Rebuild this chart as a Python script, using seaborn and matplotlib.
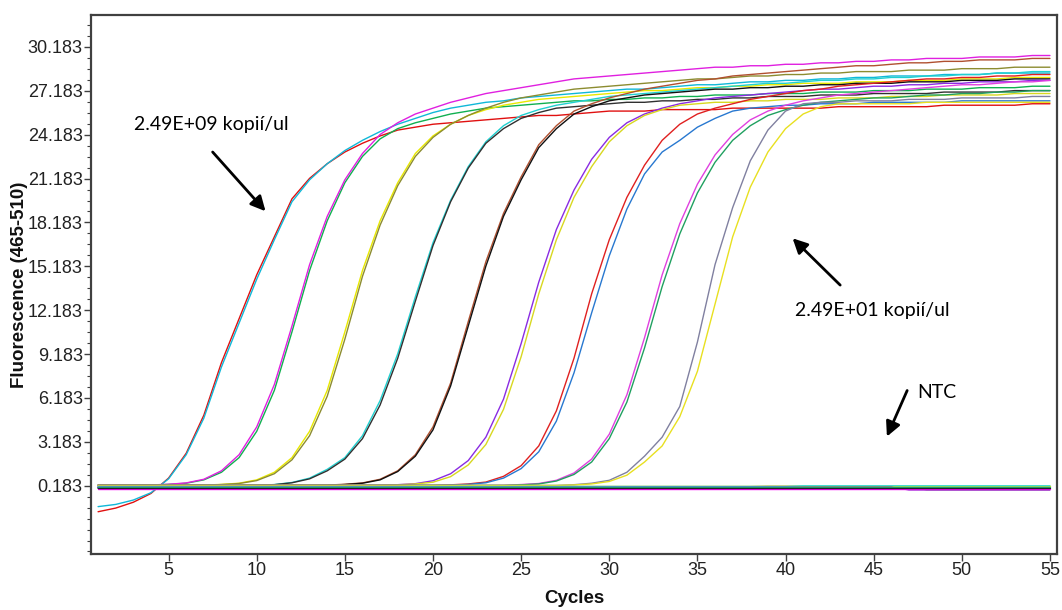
import matplotlib
matplotlib.use("Agg")
import matplotlib.pyplot as plt
from matplotlib.ticker import FixedLocator, AutoMinorLocator, FormatStrFormatter
import pandas as pd
import seaborn as sns

# ---- data: fluorescence (465-510) per well, cycles 1..55 ----
cycles = list(range(1, 56))

# 2.49E+09 copies/ul
std_e09_a = [-1.60, -1.35, -0.95, -0.35, 0.70, 2.4, 5.0, 8.6, 11.6, 14.6, 17.2, 19.8, 21.2, 22.2, 23.0, 23.6, 24.1, 24.5, 24.7, 24.9,
             25.0, 25.1, 25.2, 25.3, 25.4, 25.5, 25.5, 25.6, 25.7, 25.8, 25.8, 25.8, 25.9, 25.9, 25.9, 25.9, 26.0, 26.0, 26.0, 26.0,
             26.0, 26.0, 26.1, 26.1, 26.1, 26.1, 26.1, 26.1, 26.2, 26.2, 26.2, 26.2, 26.2, 26.3, 26.3]
std_e09_b = [-1.25, -1.10, -0.80, -0.30, 0.65, 2.3, 4.8, 8.3, 11.3, 14.3, 17.0, 19.6, 21.1, 22.2, 23.1, 23.8, 24.4, 24.9, 25.3, 25.7,
             26.0, 26.2, 26.4, 26.5, 26.7, 26.8, 26.9, 27.0, 27.1, 27.2, 27.3, 27.3, 27.4, 27.5, 27.6, 27.6, 27.7, 27.8, 27.8, 27.9,
             27.9, 28.0, 28.0, 28.1, 28.1, 28.2, 28.2, 28.2, 28.3, 28.3, 28.3, 28.4, 28.4, 28.4, 28.4]
# 2.49E+08
std_e08_a = [0.2, 0.2, 0.2, 0.22, 0.27, 0.35, 0.58, 1.1, 2.1, 3.9, 6.7, 10.7, 14.9, 18.3, 20.9, 22.7, 23.9, 24.6, 25.0, 25.3,
             25.6, 25.8, 26.0, 26.1, 26.2, 26.3, 26.4, 26.5, 26.5, 26.6, 26.6, 26.7, 26.7, 26.8, 26.8, 26.9, 26.9, 26.9, 27.0, 27.0,
             27.0, 27.1, 27.1, 27.1, 27.2, 27.2, 27.2, 27.3, 27.3, 27.3, 27.4, 27.4, 27.4, 27.5, 27.5]
std_e08_b = [0.2, 0.2, 0.2, 0.23, 0.28, 0.37, 0.62, 1.2, 2.3, 4.2, 7.1, 11.1, 15.3, 18.6, 21.1, 22.9, 24.2, 25.0, 25.6, 26.0,
             26.4, 26.7, 27.0, 27.2, 27.4, 27.6, 27.8, 28.0, 28.1, 28.2, 28.3, 28.4, 28.5, 28.6, 28.7, 28.8, 28.8, 28.9, 28.9, 29.0,
             29.0, 29.1, 29.1, 29.2, 29.2, 29.3, 29.3, 29.4, 29.4, 29.4, 29.5, 29.5, 29.5, 29.6, 29.6]
# 2.49E+07
std_e07_a = [0.2] * 6 + [0.22, 0.27, 0.35, 0.58, 1.1, 2.1, 3.9, 6.7, 10.7, 14.9, 18.3, 20.9, 22.9, 24.1, 24.9, 25.5, 25.9, 26.2,
             26.4, 26.6, 26.7, 26.8, 26.9, 27.0, 27.1, 27.2, 27.2, 27.3, 27.4, 27.4, 27.5, 27.5, 27.6, 27.6, 27.7, 27.7, 27.7,
             27.8, 27.8, 27.8, 27.9, 27.9, 27.9, 28.0, 28.0, 28.0, 28.1, 28.1, 28.1]
std_e07_b = [0.2] * 7 + [0.26, 0.33, 0.53, 1.0, 1.95, 3.6, 6.3, 10.2, 14.5, 18.0, 20.7, 22.7, 24.0, 24.9, 25.5, 26.0, 26.4,
             26.7, 26.9, 27.1, 27.3, 27.4, 27.5, 27.6, 27.7, 27.8, 27.9, 28.0, 28.0, 28.1, 28.2, 28.2, 28.3, 28.3, 28.4, 28.4,
             28.5, 28.5, 28.5, 28.6, 28.6, 28.6, 28.7, 28.7, 28.7, 28.8, 28.8, 28.8]
# 2.49E+06
std_e06_a = [0.2] * 10 + [0.26, 0.4, 0.7, 1.3, 2.1, 3.6, 6.0, 9.2, 13.1, 16.8, 19.7, 22.0, 23.7, 24.8, 25.5, 25.9, 26.2,
             26.4, 26.6, 26.8, 26.9, 27.0, 27.1, 27.2, 27.3, 27.4, 27.5, 27.6, 27.7, 27.7, 27.8, 27.9, 27.9, 28.0, 28.0, 28.1,
             28.1, 28.2, 28.2, 28.3, 28.3, 28.4, 28.4, 28.5, 28.5]
std_e06_b = [0.2] * 10 + [0.25, 0.38, 0.65, 1.2, 2.0, 3.4, 5.7, 8.9, 12.8, 16.6, 19.6, 21.9, 23.6, 24.6, 25.3, 25.7, 26.0,
             26.1, 26.2, 26.3, 26.4, 26.4, 26.5, 26.5, 26.6, 26.6, 26.7, 26.7, 26.8, 26.8, 26.8, 26.9, 26.9, 26.9, 27.0, 27.0,
             27.0, 27.0, 27.1, 27.1, 27.1, 27.1, 27.2, 27.2, 27.2]
# 2.49E+05
std_e05_a = [0.2] * 13 + [0.22, 0.28, 0.37, 0.62, 1.2, 2.3, 4.2, 7.2, 11.4, 15.5, 18.8, 21.3, 23.5, 24.8, 25.8, 26.3, 26.7, 27.0,
             27.3, 27.5, 27.7, 27.9, 28.0, 28.2, 28.3, 28.4, 28.5, 28.6, 28.7, 28.8, 28.9, 28.9, 29.0, 29.1, 29.1, 29.2, 29.2,
             29.3, 29.3, 29.3, 29.4, 29.4]
std_e05_b = [0.2] * 13 + [0.21, 0.26, 0.35, 0.58, 1.15, 2.2, 4.0, 7.0, 11.1, 15.2, 18.6, 21.1, 23.3, 24.6, 25.6, 26.1, 26.5, 26.7,
             26.9, 27.0, 27.1, 27.2, 27.3, 27.3, 27.4, 27.4, 27.5, 27.5, 27.6, 27.6, 27.7, 27.7, 27.7, 27.8, 27.8, 27.8, 27.9,
             27.9, 27.9, 28.0, 28.0, 28.0]
# 2.49E+04
std_e04_a = [0.2] * 16 + [0.21, 0.25, 0.32, 0.52, 1.0, 1.9, 3.5, 6.1, 9.9, 14.1, 17.7, 20.4, 22.5, 24.0, 25.0, 25.6, 26.0, 26.3,
             26.5, 26.7, 26.8, 26.9, 27.0, 27.1, 27.2, 27.3, 27.3, 27.4, 27.5, 27.5, 27.6, 27.6, 27.7, 27.7, 27.8, 27.8, 27.8,
             27.9, 27.9]
std_e04_b = [0.2] * 17 + [0.24, 0.3, 0.42, 0.8, 1.6, 3.0, 5.4, 9.0, 13.3, 17.0, 19.9, 22.0, 23.7, 24.8, 25.5, 25.9, 26.2,
             26.3, 26.4, 26.4, 26.5, 26.5, 26.6, 26.6, 26.6, 26.7, 26.7, 26.7, 26.8, 26.8, 26.8, 26.9, 26.9, 26.9, 26.9, 27.0,
             27.0, 27.0]
# 2.49E+03
std_e03_a = [0.2] * 20 + [0.24, 0.3, 0.43, 0.82, 1.55, 2.9, 5.3, 8.9, 13.3, 17.0, 19.9, 22.1, 23.8, 24.9, 25.6, 26.0, 26.3,
             26.6, 26.8, 27.0, 27.2, 27.3, 27.5, 27.6, 27.7, 27.8, 27.9, 28.0, 28.0, 28.1, 28.1, 28.2, 28.2, 28.3, 28.3]
std_e03_b = [0.2] * 20 + [0.22, 0.27, 0.38, 0.7, 1.35, 2.5, 4.6, 7.9, 12.0, 15.9, 19.1, 21.5, 23.0, 23.8, 24.7, 25.3, 25.8,
             26.0, 26.1, 26.2, 26.2, 26.3, 26.3, 26.3, 26.4, 26.4, 26.4, 26.4, 26.4, 26.5, 26.5, 26.5, 26.5, 26.5, 26.5]
# 2.49E+02
std_e02_a = [0.2] * 22 + [0.2, 0.21, 0.26, 0.33, 0.55, 1.05, 2.0, 3.7, 6.4, 10.3, 14.6, 18.1, 20.8, 22.8, 24.2, 25.2, 25.8, 26.2,
             26.5, 26.7, 26.9, 27.0, 27.1, 27.2, 27.3, 27.4, 27.5, 27.6, 27.6, 27.7, 27.8, 27.8, 27.9]
std_e02_b = [0.2] * 22 + [0.2, 0.2, 0.24, 0.3, 0.5, 0.95, 1.8, 3.4, 5.9, 9.6, 13.8, 17.4, 20.2, 22.3, 23.8, 24.8, 25.5, 25.9,
             26.2, 26.4, 26.5, 26.6, 26.7, 26.7, 26.8, 26.9, 26.9, 27.0, 27.0, 27.1, 27.1, 27.2, 27.2]
# 2.49E+01
std_e01_a = [0.2] * 27 + [0.25, 0.35, 0.55, 1.1, 2.2, 3.5, 5.6, 10.0, 15.3, 19.2, 22.4, 24.5, 25.8, 26.3,
             26.4, 26.4, 26.5, 26.5, 26.5, 26.6, 26.6, 26.6, 26.7, 26.7, 26.7, 26.7, 26.8, 26.8]
std_e01_b = [0.2] * 27 + [0.23, 0.3, 0.47, 0.9, 1.8, 2.9, 4.9, 8.0, 12.6, 17.2, 20.6, 23.0, 24.6, 25.6, 26.1, 26.3,
             26.3, 26.3, 26.3, 26.3, 26.4, 26.4, 26.4, 26.4, 26.4, 26.4, 26.4, 26.4]

# no-template controls (flat)
ntc_1 = [0.16] * 18 + [0.12] * 20 + [0.15] * 17
ntc_2 = [0.10] * 25 + [0.08] * 30
ntc_3 = [0.05] * 30 + [0.03] * 25
ntc_4 = [0.18] * 55
ntc_5 = [0.00] * 27 + [0.02] * 20 + [-0.08] * 8
ntc_6 = [0.13] * 40 + [0.18] * 15
ntc_7 = [0.07] * 46 + [-0.10] * 9
ntc_8 = [-0.02] * 55
ntc_9 = [0.11] * 55
ntc_10 = [0.04] * 55

wells = {
    "E09 a": (std_e09_a, "#e01010"), "E09 b": (std_e09_b, "#10b8d8"),
    "E08 a": (std_e08_a, "#10b050"), "E08 b": (std_e08_b, "#e020e0"),
    "E07 a": (std_e07_a, "#e8e800"), "E07 b": (std_e07_b, "#8c8c30"),
    "E06 a": (std_e06_a, "#20d0d0"), "E06 b": (std_e06_b, "#303030"),
    "E05 a": (std_e05_a, "#b05030"), "E05 b": (std_e05_b, "#101010"),
    "E04 a": (std_e04_a, "#8a2be2"), "E04 b": (std_e04_b, "#d8d820"),
    "E03 a": (std_e03_a, "#e02020"), "E03 b": (std_e03_b, "#2878d0"),
    "E02 a": (std_e02_a, "#e040e0"), "E02 b": (std_e02_b, "#20a060"),
    "E01 a": (std_e01_a, "#8080a0"), "E01 b": (std_e01_b, "#e8e020"),
    "NTC 1": (ntc_1, "#f0a030"), "NTC 2": (ntc_2, "#00c000"),
    "NTC 3": (ntc_3, "#0000ff"), "NTC 4": (ntc_4, "#e0e000"),
    "NTC 5": (ntc_5, "#006400"), "NTC 6": (ntc_6, "#40e0d0"),
    "NTC 7": (ntc_7, "#7000c0"), "NTC 8": (ntc_8, "#ff00ff"),
    "NTC 9": (ntc_9, "#20b080"), "NTC 10": (ntc_10, "#202020"),
}

y_ticks = [0.183, 3.183, 6.183, 9.183, 12.183, 15.183, 18.183, 21.183, 24.183, 27.183, 30.183]
x_ticks = [5, 10, 15, 20, 25, 30, 35, 40, 45, 50, 55]

rows = []
for name, (vals, _) in wells.items():
    for c, v in zip(cycles, vals):
        rows.append({"well": name, "cycle": c, "fluor": v})
df = pd.DataFrame(rows)
palette = {name: col for name, (_, col) in wells.items()}

sns.set_theme(style="white")
plt.rcParams["font.family"] = ["Liberation Sans", "DejaVu Sans"]

fig = plt.figure(figsize=(10.62, 6.10), dpi=100)
ax = fig.add_axes([0.0857, 0.0918, 0.9096, 0.8836])

sns.lineplot(data=df, x="cycle", y="fluor", hue="well", palette=palette,
             estimator=None, sort=False, legend=False, linewidth=1.0, ax=ax)

ax.set_xlim(0.6, 55.4)
ax.set_ylim(-4.49, 32.37)
ax.xaxis.set_major_locator(FixedLocator(x_ticks))
ax.yaxis.set_major_locator(FixedLocator(y_ticks))
ax.yaxis.set_major_formatter(FormatStrFormatter("%.3f"))
ax.yaxis.set_minor_locator(AutoMinorLocator(4))

for side in ax.spines.values():
    side.set_color("#404040")
    side.set_linewidth(1.6)

ax.tick_params(axis="both", which="major", direction="out", length=5, width=1.0,
               color="#404040", labelsize=13, labelcolor="#222222", pad=1)
ax.tick_params(axis="y", which="minor", direction="out", length=3, width=0.8, color="#404040")
ax.tick_params(left=True, bottom=True, which="major")
ax.tick_params(left=True, which="minor")

ax.set_xlabel("Cycles", fontsize=13.5, fontweight="bold", color="#111111")
ax.set_ylabel("Fluorescence (465-510)", fontsize=13.5, fontweight="bold", color="#111111")
ax.xaxis.set_label_coords(0.5, -0.082)
ax.xaxis.label.set_va("center")
ax.yaxis.set_label_coords(-0.0745, 0.5)
ax.yaxis.label.set_va("center")

note_font = ["Lato", "DejaVu Sans"]
arrow = dict(arrowstyle="-|>", color="black", lw=2.0, mutation_scale=22, shrinkA=0, shrinkB=0)
ax.text(7.4, 24.9, "2.49E+09 kopií/ul", fontsize=14, family=note_font, ha="center", va="center", color="black")
ax.annotate("", xy=(10.5, 18.95), xytext=(7.5, 23.0), arrowprops=arrow)
ax.text(44.95, 12.17, "2.49E+01 kopií/ul", fontsize=14, family=note_font, ha="center", va="center", color="black")
ax.annotate("", xy=(40.4, 17.1), xytext=(43.1, 13.9), arrowprops=arrow)
ax.text(47.45, 6.55, "NTC", fontsize=14, family=note_font, ha="left", va="center", color="black")
ax.annotate("", xy=(45.75, 3.54), xytext=(46.9, 6.69), arrowprops=arrow)

fig.savefig("out.png", dpi=100, facecolor="white")
